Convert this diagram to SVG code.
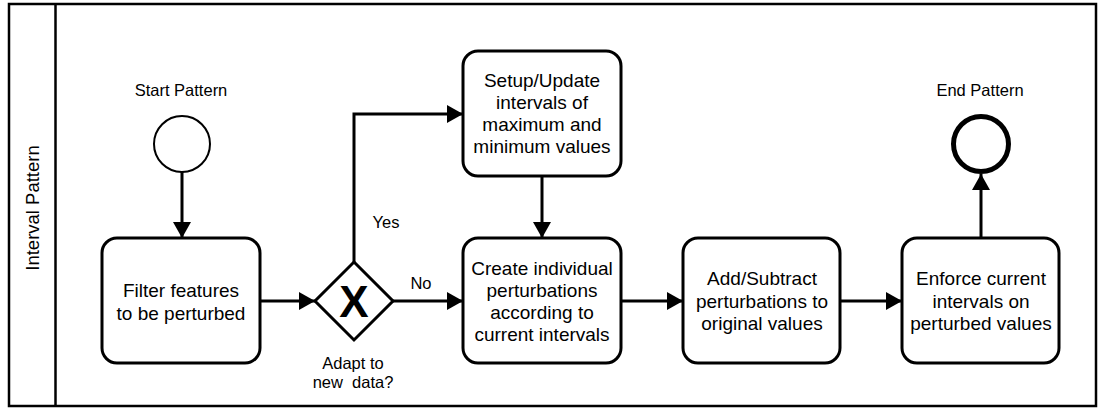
<svg xmlns="http://www.w3.org/2000/svg" width="1099" height="410" viewBox="0 0 1099 410">
  <style>
    .task { fill: #ffffff; stroke: #000000; stroke-width: 3; }
    .txt { font-family: "Liberation Sans", Arial, sans-serif; font-size: 19px; fill: #000000; text-anchor: middle; }
    .lbl { font-family: "Liberation Sans", Arial, sans-serif; font-size: 16.5px; fill: #000000; text-anchor: middle; }
    .edge { fill: none; stroke: #000000; stroke-width: 3; }
  </style>
  <defs>
    <marker id="arrow" markerUnits="userSpaceOnUse" markerWidth="16" markerHeight="18" refX="16" refY="9" orient="auto">
      <path d="M0,0 L16,9 L0,18 Z" fill="#000000"/>
    </marker>
  </defs>

  <rect width="1099" height="410" fill="#ffffff"/>

  <!-- pool / lane -->
  <g id="lane">
    <rect x="9" y="4" width="1087" height="402" fill="none" stroke="#000000" stroke-width="2.5"/>
    <line x1="55.5" y1="4" x2="55.5" y2="406" stroke="#000000" stroke-width="2.5"/>
    <text class="lbl" style="font-size:18.5px" transform="translate(39,208) rotate(-90)">Interval Pattern</text>
  </g>

  <!-- connectors -->
  <g id="connectors">
    <path class="edge" d="M182,172 L182,238" marker-end="url(#arrow)"/>
    <path class="edge" d="M260,301 L315,301" marker-end="url(#arrow)"/>
    <path class="edge" d="M354,262 L354,114 L463,114" marker-end="url(#arrow)"/>
    <path class="edge" d="M393,301 L463,301" marker-end="url(#arrow)"/>
    <path class="edge" d="M542,176 L542,238" marker-end="url(#arrow)"/>
    <path class="edge" d="M621,301 L683,301" marker-end="url(#arrow)"/>
    <path class="edge" d="M840,301 L902,301" marker-end="url(#arrow)"/>
    <path class="edge" d="M981,238 L981,174" marker-end="url(#arrow)"/>
    <text class="lbl" x="386" y="228">Yes</text>
    <text class="lbl" x="421" y="289">No</text>
  </g>

  <!-- start event -->
  <g id="start">
    <circle cx="182" cy="144" r="28" fill="#ffffff" stroke="#000000" stroke-width="2"/>
    <text class="lbl" x="181" y="96">Start Pattern</text>
  </g>

  <!-- tasks -->
  <g id="filter">
    <rect class="task" x="102" y="238" width="158" height="125" rx="15"/>
    <text class="txt" x="181" y="297">Filter features</text>
    <text class="txt" x="181" y="320">to be perturbed</text>
  </g>

  <g id="gateway">
    <path d="M354,262 L393,301 L354,340 L315,301 Z" fill="#ffffff" stroke="#000000" stroke-width="3"/>
    <text x="354" y="317" font-family="Liberation Sans, Arial, sans-serif" font-size="44" font-weight="bold" text-anchor="middle">X</text>
    <text class="lbl" x="353" y="369">Adapt to</text>
    <text class="lbl" x="353" y="388" style="white-space:pre">new  data?</text>
  </g>

  <g id="setup">
    <rect class="task" x="463" y="51" width="158" height="125" rx="15"/>
    <text class="txt" x="542" y="87">Setup/Update</text>
    <text class="txt" x="542" y="109">intervals of</text>
    <text class="txt" x="542" y="131">maximum and</text>
    <text class="txt" x="542" y="153">minimum values</text>
  </g>

  <g id="create">
    <rect class="task" x="463" y="238" width="158" height="125" rx="15"/>
    <text class="txt" x="542" y="275">Create individual</text>
    <text class="txt" x="542" y="297">perturbations</text>
    <text class="txt" x="542" y="319">according to</text>
    <text class="txt" x="542" y="341">current intervals</text>
  </g>

  <g id="add">
    <rect class="task" x="683" y="238" width="157" height="125" rx="15"/>
    <text class="txt" x="762" y="285">Add/Subtract</text>
    <text class="txt" x="762" y="308">perturbations to</text>
    <text class="txt" x="762" y="330">original values</text>
  </g>

  <g id="enforce">
    <rect class="task" x="902" y="238" width="157" height="125" rx="15"/>
    <text class="txt" x="981" y="285">Enforce current</text>
    <text class="txt" x="981" y="308">intervals on</text>
    <text class="txt" x="981" y="330">perturbed values</text>
  </g>

  <!-- end event -->
  <g id="end">
    <circle cx="981" cy="144" r="27.5" fill="#ffffff" stroke="#000000" stroke-width="5"/>
    <text class="lbl" x="980" y="96">End Pattern</text>
  </g>
</svg>
